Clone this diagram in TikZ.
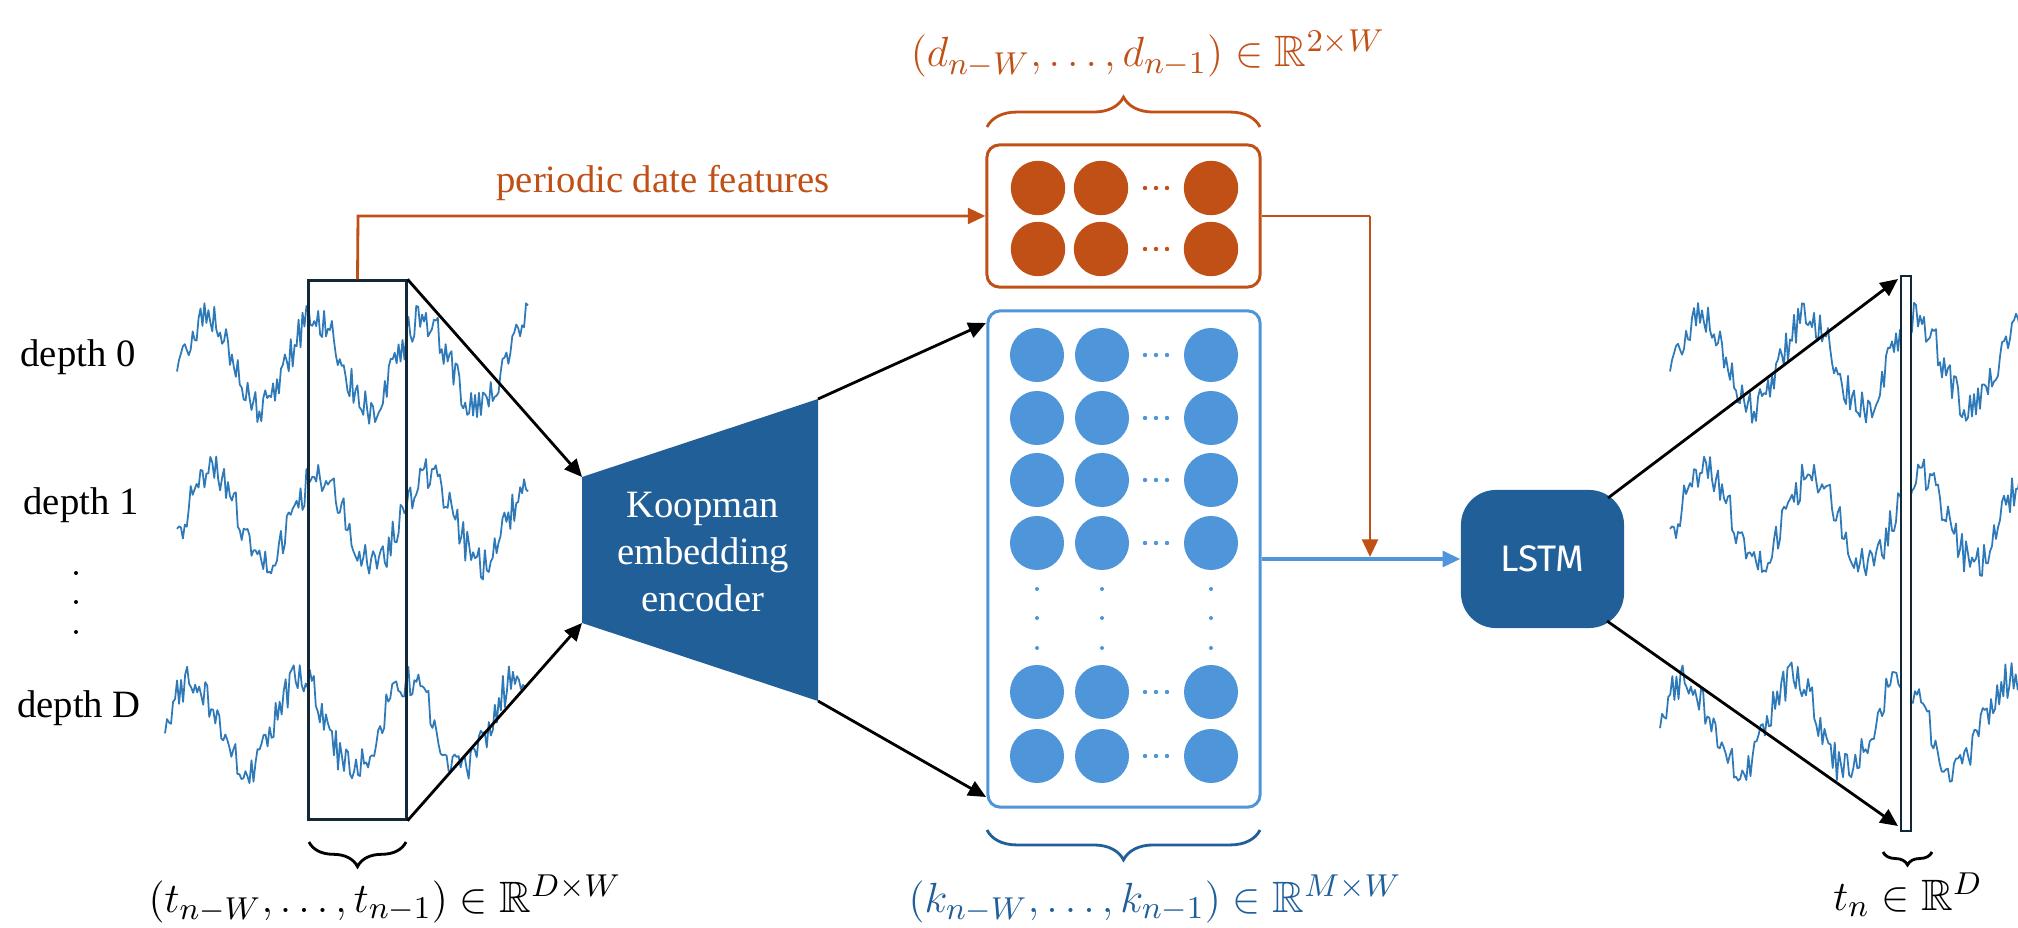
\documentclass[tikz,border=0pt]{standalone}
\usepackage{amssymb}
\usepackage{fontspec}
\setmainfont{Liberation Serif}
\newfontfamily\lstmfont{Fira Sans}
\usetikzlibrary{arrows.meta,decorations.pathreplacing,calc}
\definecolor{orng}{RGB}{192,80,22}
\definecolor{dblue}{RGB}{33,95,153}
\definecolor{lblue}{RGB}{79,149,217}
\definecolor{wavec}{RGB}{46,122,184}
\definecolor{winc}{RGB}{16,40,56}
\newcommand{\mywave}[5]{%
  \pgfmathsetseed{#1}%
  \draw[wave] plot[domain=#2:#3, samples=180, variable=\t] (\t, {#4 - 45*sin(3.3333*(\t-#5)) + 18*rand});%
}
\begin{document}
\begin{tikzpicture}[x=0.01cm,y=-0.01cm,
  wave/.style={wavec, line width=0.5pt, line join=round},
  blk/.style={black, line width=0.8pt, -{Triangle[length=5pt,width=4.5pt]}},
  orarr/.style={orng, line width=0.8pt, -{Triangle[length=5pt,width=4.5pt]}},
  blarr/.style={lblue, line width=0.9pt, -{Triangle[length=5pt,width=4.5pt]}},
  lbl/.style={font=\fontsize{11}{13.4}\selectfont, inner sep=0pt},
  mathlbl/.style={font=\fontsize{12.5}{15}\selectfont, inner sep=0pt},
  winbox/.style={draw=winc, line width=0.85pt, inner sep=0pt},
  featbox/.style={rounded corners=3.5pt, line width=0.85pt, inner sep=0pt},
  brc/.style={line width=0.8pt, decorate},
  ocirc/.style={fill=orng},
  bcirc/.style={fill=lblue}
]
\useasboundingbox (0,0) rectangle (2018,928);
\clip (0,0) rectangle (2018,928);

% waveforms left
\mywave{11}{177}{528}{363}{180}
\mywave{23}{177}{528}{518}{185}
\mywave{37}{165}{525}{725}{165}
% waveforms right (same series, shifted)
\begin{scope}[shift={(1493,0)}]
\mywave{11}{177}{535}{363}{180}
\mywave{23}{177}{535}{518}{185}
\mywave{37}{167}{535}{725}{165}
\end{scope}

% depth labels
\node[lbl, anchor=base] (d0) at (78,367) {depth 0};
\node[lbl, anchor=base] (d1) at (81,515) {depth 1};
\node[lbl, anchor=base] (dD) at (79,718) {depth D};
\foreach \yy in {573,602,632} \fill (76,\yy) circle[radius=0.02cm];

% window rectangles
\node[winbox, minimum width=0.97cm, minimum height=5.38cm] (win) at (357.5,550) {};
\node[winbox, fill=white, line width=0.7pt, minimum width=0.10cm, minimum height=5.55cm] (tn) at (1906,553.5) {};

% Koopman encoder
\coordinate (k1) at (582,477);
\coordinate (k2) at (818,399);
\coordinate (k3) at (818,701);
\coordinate (k4) at (582,623);
\fill[dblue] (k1) -- (k2) -- (k3) -- (k4) -- cycle;
\node[lbl, text=white, align=center] (enc) at (703,552) {Koopman\\embedding\\encoder};

% feature boxes
\node[featbox, draw=orng, minimum width=2.73cm, minimum height=1.42cm] (obox) at (1123.5,216) {};
\node[featbox, draw=lblue, minimum width=2.72cm, minimum height=4.96cm] (bbox) at (1124,559) {};

\foreach \yy in {188,249}{
  \foreach \xx in {1038,1101,1211} \fill[ocirc] (\xx,\yy) circle[radius=0.272cm];
  \foreach \xx in {1145,1156,1167} \fill[orng] (\xx,\yy) circle[radius=0.022cm];
}
\foreach \yy in {355,418,480,543,692,756}{
  \foreach \xx in {1037,1102,1211} \fill[bcirc] (\xx,\yy) circle[radius=0.27cm];
  \foreach \xx in {1145,1156,1167} \fill[lblue] (\xx,\yy) circle[radius=0.022cm];
}
\foreach \yy in {589,618,648}
  \foreach \xx in {1037,1102,1211} \fill[lblue] (\xx,\yy) circle[radius=0.02cm];

% LSTM
\node[fill=dblue, rounded corners=0.35cm, minimum width=1.63cm, minimum height=1.38cm, inner sep=0pt,
      text=white, font=\lstmfont\fontsize{10.5}{12}\selectfont] (lstm) at (1542.5,559) {LSTM};

% coordinates for connector ends
\coordinate (otop) at (358,216);
\coordinate (ocorner) at (1370,216);
\coordinate (ojoin) at (1370,557);
\coordinate (bin1) at (986,323);
\coordinate (bin2) at (986,797);
\coordinate (lo1) at (1608,498);
\coordinate (lo2) at (1607,621);
\coordinate (tn1) at (1898,279);
\coordinate (tn2) at (1898,826);

% connectors
\draw[orarr] (win.north) -- (otop) -- (obox.west);
\node[lbl, text=orng, anchor=base] (pdf) at (663,193) {periodic date features};
\draw[orng, line width=0.8pt] (obox.east) -- (ocorner);
\draw[blarr] (bbox.east |- lstm.west) -- (lstm.west);
\draw[orarr] (ocorner) -- (ojoin);
\draw[blk] (win.north east) -- (k1);
\draw[blk] (win.south east) -- (k4);
\draw[blk] (k2) -- (bin1);
\draw[blk] (k3) -- (bin2);
\draw[blk] (lo1) -- (tn1);
\draw[blk] (lo2) -- (tn2);

% braces and labels
\draw[brc, orng, decoration={brace, amplitude=8.5pt}] (987,127) -- (1260,127);
\node[mathlbl, text=orng, anchor=base] (dlab) at (1148,67) {$(d_{n-W},\ldots,d_{n-1})\in\mathbb{R}^{2\times W}$};

\draw[brc, dblue, decoration={brace, amplitude=8.5pt}] (1260,830) -- (987,830);
\node[mathlbl, text=dblue, anchor=base] (klab) at (1155,912) {$(k_{n-W},\ldots,k_{n-1})\in\mathbb{R}^{M\times W}$};

\draw[brc, black, decoration={brace, amplitude=7pt}] (406,842) -- (309,842);
\node[mathlbl, anchor=base] (tlab) at (385,912) {$(t_{n-W},\ldots,t_{n-1})\in\mathbb{R}^{D\times W}$};

\draw[brc, black, decoration={brace, amplitude=3.7pt}] (1932,852) -- (1883,852);
\node[mathlbl, anchor=base] (tnlab) at (1908,910) {$t_{n}\in\mathbb{R}^{D}$};
\end{tikzpicture}
\end{document}
